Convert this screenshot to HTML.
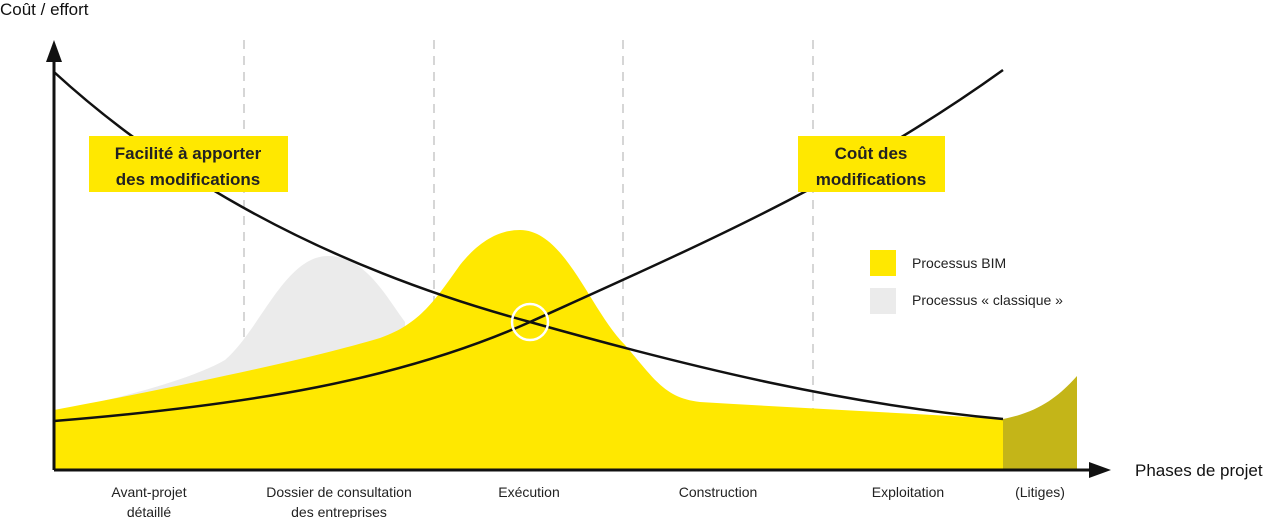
<!DOCTYPE html>
<html><head><meta charset="utf-8"><style>
body{margin:0;background:#fff;}
svg{display:block;font-family:"Liberation Sans",sans-serif;}
</style></head><body>
<svg width="1280" height="518" viewBox="0 0 1280 518">
<g stroke="#d6d6d6" stroke-width="2" stroke-dasharray="9,7">
<line x1="244" y1="40" x2="244" y2="470"/><line x1="434" y1="40" x2="434" y2="470"/>
<line x1="623" y1="40" x2="623" y2="470"/><line x1="813" y1="40" x2="813" y2="470"/>
</g>
<path d="M54,412 C120,398 190,380 225,360 C260,330 285,256 328,256 C365,256 385,295 405,322 L405,470 L54,470Z" fill="#ebebeb"/>
<path d="M54,410 C150,392 300,362 380,338 C420,324 435,300 460,265 C480,240 500,230 520,230 C565,230 590,310 625,345 C655,380 665,398 700,402 C800,408 900,413 1003,419 L1003,470 L54,470Z" fill="#ffe800"/>
<path d="M1003,419 C1040,412 1060,395 1077,376 L1077,470 L1003,470Z" fill="#c4b518"/>
<path d="M54,72 C150,160 300,260 530,322 C700,370 850,405 1003,419" fill="none" stroke="#111" stroke-width="2.5"/>
<path d="M54,421 C250,405 400,380 530,322 C700,245 850,180 1003,70" fill="none" stroke="#111" stroke-width="2.5"/>
<circle cx="530" cy="322" r="18" fill="none" stroke="#fff" stroke-width="2.5"/>
<line x1="54" y1="470" x2="54" y2="60" stroke="#111" stroke-width="3"/>
<polygon points="54,40 46,62 62,62" fill="#111"/>
<line x1="54" y1="470" x2="1092" y2="470" stroke="#111" stroke-width="3"/>
<polygon points="1111,470 1089,462 1089,478" fill="#111"/>
<rect x="89" y="136" width="199" height="56" fill="#ffe800"/>
<rect x="798" y="136" width="147" height="56" fill="#ffe800"/>
<g font-size="17" font-weight="bold" fill="#222" text-anchor="middle">
<text x="188" y="159">Facilité à apporter</text><text x="188" y="185">des modifications</text>
<text x="871" y="159">Coût des</text><text x="871" y="185">modifications</text>
</g>
<rect x="870" y="250" width="26" height="26" fill="#ffe800"/>
<rect x="870" y="288" width="26" height="26" fill="#ebebeb"/>
<g font-size="14" fill="#222">
<text x="912" y="268">Processus BIM</text><text x="912" y="305">Processus « classique »</text>
</g>
<text x="0" y="15" font-size="17" fill="#111">Coût / effort</text>
<text x="1135" y="476" font-size="17" fill="#111">Phases de projet</text>
<g font-size="14" fill="#222" text-anchor="middle">
<text x="149" y="497">Avant-projet</text><text x="149" y="517">détaillé</text>
<text x="339" y="497">Dossier de consultation</text><text x="339" y="517">des entreprises</text>
<text x="529" y="497">Exécution</text><text x="718" y="497">Construction</text>
<text x="908" y="497">Exploitation</text><text x="1040" y="497">(Litiges)</text>
</g>
</svg>
</body></html>
